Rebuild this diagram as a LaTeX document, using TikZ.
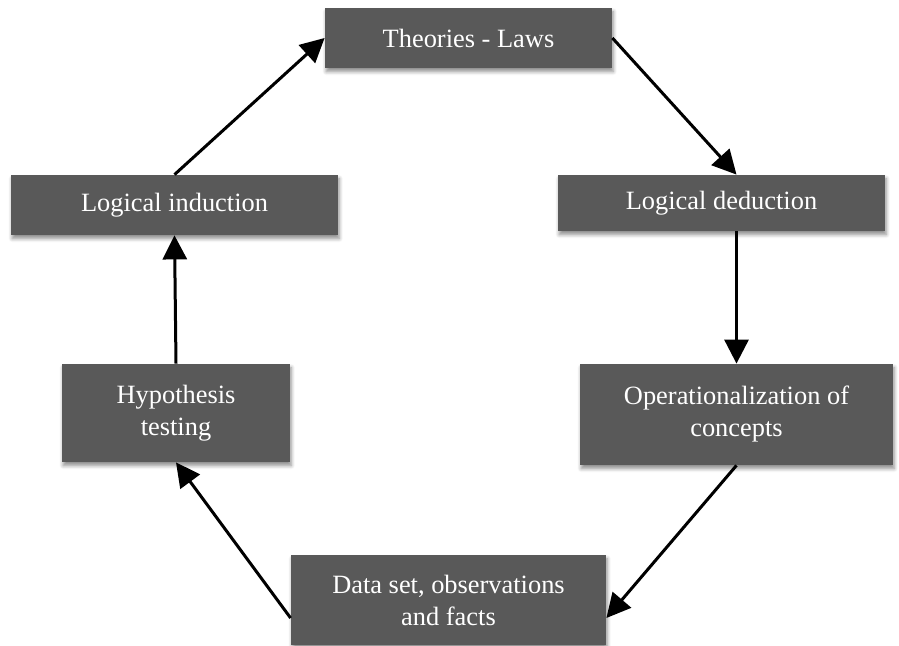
\documentclass[tikz,border=0pt]{standalone}
\usepackage{fontspec}
\setmainfont{Liberation Serif}
\usetikzlibrary{arrows.meta,calc,shadows.blur}

\definecolor{boxgrey}{RGB}{89,89,89}
\tikzstyle{stagebox} = [fill=boxgrey, text=white, rectangle, inner sep=0pt,
    align=center, font=\fontsize{13.2}{16}\selectfont,
    blur shadow={shadow xshift=0.6pt, shadow yshift=-1.8pt, shadow blur steps=6, shadow opacity=45}]
\tikzstyle{flow} = [line width=1.5pt, -{Triangle[length=12pt,width=12pt]}]

\begin{document}
\begin{tikzpicture}[x=0.5pt,y=-0.5pt]
\useasboundingbox (0,0) rectangle (899,646);

\node [stagebox, minimum width=143.5pt, minimum height=30pt] (theories) at (468.5,38) {Theories - Laws};
\node [stagebox, minimum width=163.5pt, minimum height=30pt] (induction) at (174.5,205) {Logical induction};
\node [stagebox, minimum width=163.5pt, minimum height=28pt] (deduction) at (721.5,203) {Logical deduction};
\node [stagebox, minimum width=114pt, minimum height=49pt] (hypothesis) at (176,413) {Hypothesis\\testing};
\node [stagebox, minimum width=156.5pt, minimum height=50.5pt] (operational) at (736.5,414.5) {Operationalization of\\concepts};
\node [stagebox, minimum width=157.5pt, minimum height=45pt] (dataset) at (448.5,600) {Data set, observations\\and facts};

\draw [flow] (induction.north) -- (theories.west);
\draw [flow] (theories.east) -- (deduction.north -| operational.north);
\draw [flow] (deduction.south -| operational.north) -- (operational.north);
\draw [flow] (operational.south) -- ($(dataset.east)+(0,-9pt)$);
\draw [flow] ($(dataset.west)+(0,-9pt)$) -- (hypothesis.south);
\draw [flow] (hypothesis.north) -- (induction.south);
\end{tikzpicture}
\end{document}
